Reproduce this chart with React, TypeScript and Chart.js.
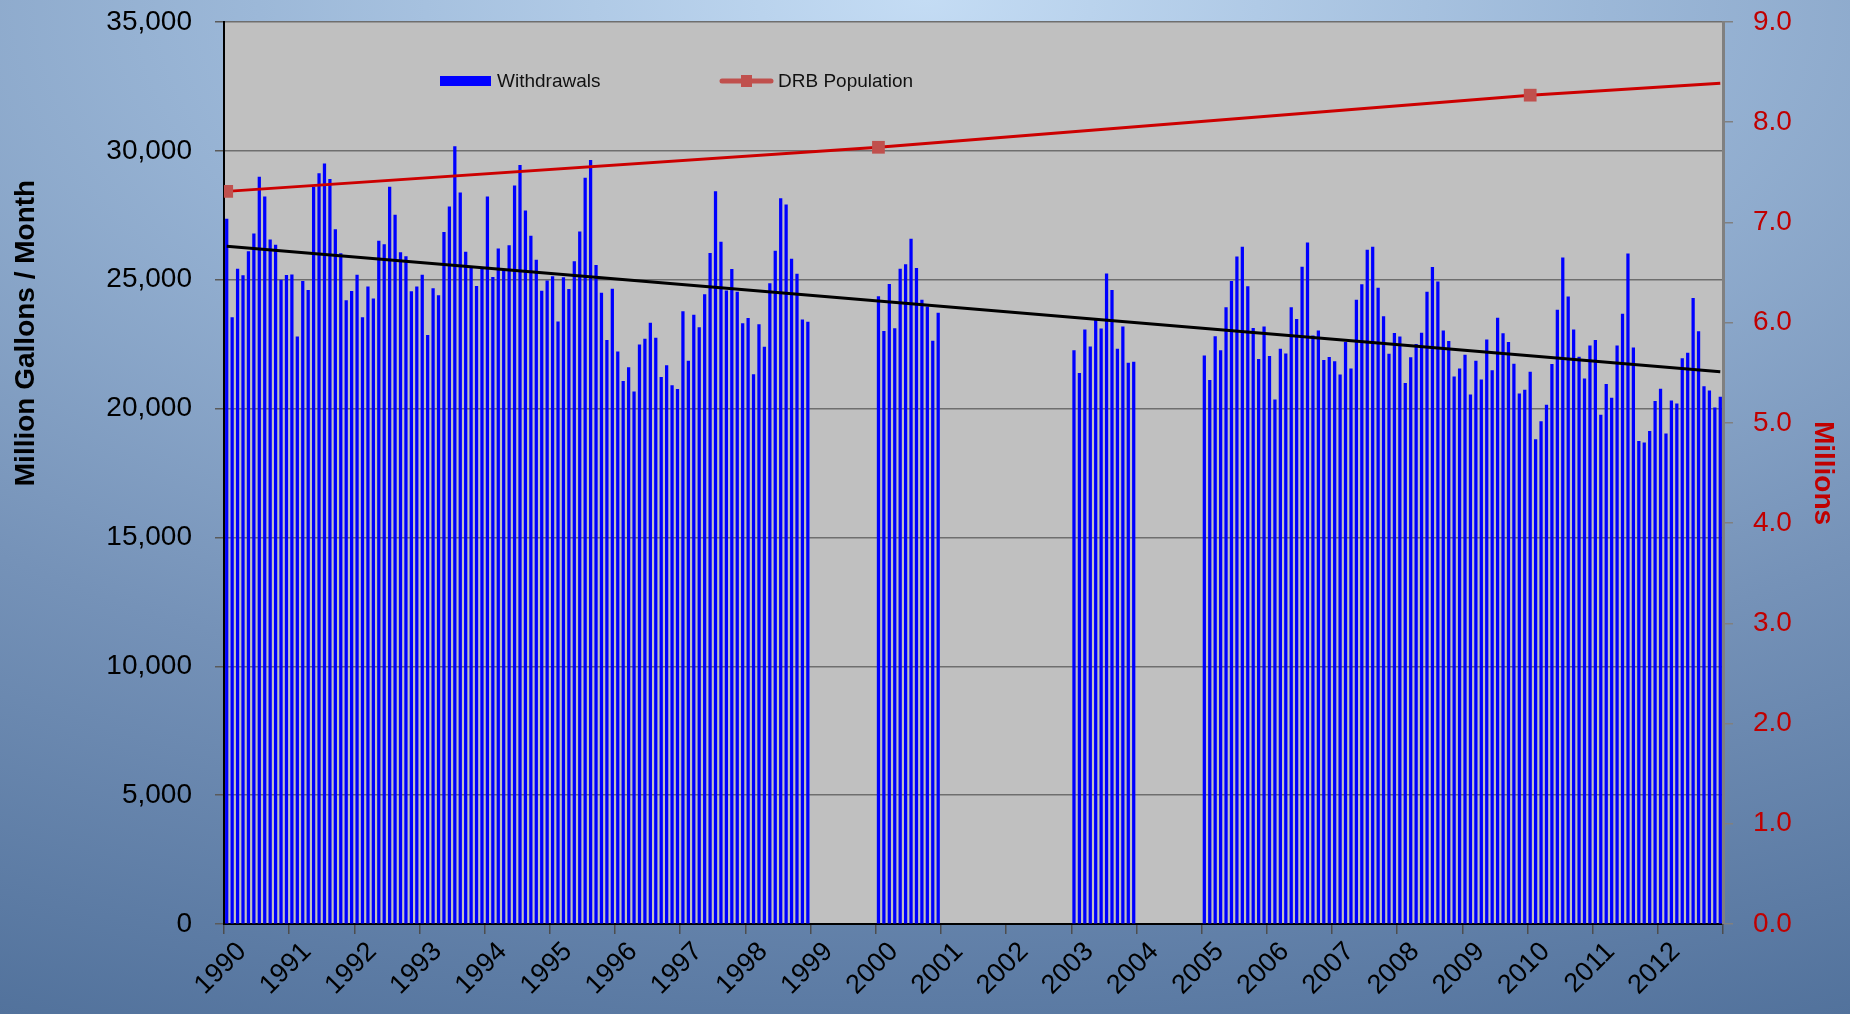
import React, { useEffect, useRef } from 'react';
import { Chart, registerables } from 'chart.js';

Chart.register(...registerables);

// ---- Data ----
const yearLabels = [
  '1990', '1991', '1992', '1993', '1994', '1995', '1996', '1997', '1998', '1999', '2000', '2001',
  '2002', '2003', '2004', '2005', '2006', '2007', '2008', '2009', '2010', '2011', '2012',
];
const totalMonths = 276;

// Monthly withdrawals (million gallons / month), blocks of consecutive months
const withdrawals1990to1998 = [
  27350, 23530, 25410, 25160, 26090, 26780, 28980, 28220, 26550, 26340, 24990, 25170,
  25190, 22780, 24940, 24590, 28590, 29120, 29500, 28900, 26950, 26010, 24190, 24550,
  25180, 23530, 24720, 24260, 26500, 26360, 28590, 27510, 26050, 25900, 24540, 24720,
  25180, 22840, 24660, 24380, 26840, 27830, 30170, 28370, 26070, 25480, 24740, 25430,
  28220, 25090, 26200, 25360, 26320, 28640, 29440, 27670, 26690, 25760, 24560, 24960,
  25120, 23370, 25080, 24630, 25700, 26860, 28940, 29630, 25560, 24480, 22650, 24640,
  22200, 21060, 21590, 20650, 22470, 22700, 23320, 22740, 21210, 21670, 20890, 20750,
  23760, 21840, 23630, 23140, 24420, 26020, 28420, 26460, 24570, 25400, 24520, 23300,
  23500, 21320, 23260, 22390, 24850, 26110, 28150, 27910, 25800, 25220, 23440, 23360,
];
const withdrawals2000 = [
  24350, 23000, 24820, 23100, 25410, 25590, 26580, 25440, 24210, 23950, 22620, 23710,
];
const withdrawals2003 = [
  22250, 21370, 23060, 22400, 23490, 23090, 25230, 24590, 22310, 23170, 21770, 21800,
];
const withdrawals2005to2012 = [
  22050, 21100, 22790, 22250, 23920, 24940, 25890, 26270, 24730, 23110, 21910, 23170,
  22030, 20340, 22310, 22120, 23920, 23460, 25490, 26430, 22820, 23020, 21870, 21990,
  21820, 21310, 22570, 21540, 24210, 24810, 26150, 26270, 24680, 23570, 22110, 22920,
  22780, 20980, 21980, 22490, 22930, 24520, 25480, 24920, 23020, 22610, 21230, 21540,
  22080, 20530, 21840, 21120, 22670, 21470, 23510, 22910, 22570, 21730, 20570, 20720,
  21420, 18800, 19500, 20140, 21720, 23820, 25850, 24340, 23060, 22000, 21150, 22430,
  22650, 19750, 20940, 20410, 22430, 23670, 26000, 22360, 18730, 18670, 19120, 20280,
  20760, 19020, 20300, 20180, 21940, 22150, 24280, 22990, 20850, 20690, 20030, 20450,
];
const blockStartMonths = [0, 120, 156, 180];

// Linear trend of withdrawals (first and last month)
const trendMonths = [0, 275];
const trendValues = [26300, 21430];

// DRB population (millions)
const popMonths = [0, 120, 240, 275];
const popValues = [7.31, 7.75, 8.27, 8.39];
const popMarkerRadius = [9, 9, 9, 0];

const FONT = "'Liberation Sans', Arial, sans-serif";

export default function App() {
  const ref = useRef<HTMLCanvasElement>(null);

  useEffect(() => {
    document.body.style.margin = '0';
    const blocks = [withdrawals1990to1998, withdrawals2000, withdrawals2003, withdrawals2005to2012];
    const barPoints: { x: number; y: number }[] = [];
    blocks.forEach((vals, b) => {
      vals.forEach((v, i) => barPoints.push({ x: blockStartMonths[b] + i + 0.5, y: v }));
    });
    const trendPoints = trendMonths.map((m, i) => ({ x: m + 0.5, y: trendValues[i] }));
    const popPoints = popMonths.map((m, i) => ({ x: m + 0.5, y: popValues[i] }));

    const bgPlugin = {
      id: 'plotBg',
      beforeDraw(chart: any) {
        const { ctx, chartArea: a } = chart;
        ctx.save();
        ctx.fillStyle = '#c0c0c0';
        ctx.fillRect(a.left, a.top, a.right - a.left, a.bottom - a.top);
        ctx.restore();
      },
      afterDraw(chart: any) {
        const { ctx } = chart;
        ctx.save();
        // left axis title
        ctx.translate(26, 333);
        ctx.rotate(-Math.PI / 2);
        ctx.font = `bold 28px ${FONT}`;
        ctx.fillStyle = '#000';
        ctx.textAlign = 'center';
        ctx.textBaseline = 'middle';
        ctx.fillText('Million Gallons / Month', 0, 0);
        ctx.restore();

        // legend
        ctx.save();
        ctx.font = `19px ${FONT}`;
        ctx.textBaseline = 'middle';
        ctx.fillStyle = '#0000ff';
        ctx.fillRect(440, 76, 51, 10);
        ctx.fillStyle = '#111';
        ctx.fillText('Withdrawals', 497, 82);
        ctx.strokeStyle = '#c0504d';
        ctx.lineWidth = 5;
        ctx.lineCap = 'round';
        ctx.beginPath();
        ctx.moveTo(722, 81);
        ctx.lineTo(771, 81);
        ctx.stroke();
        ctx.fillStyle = '#c0504d';
        ctx.fillRect(741, 75, 11, 12);
        ctx.fillStyle = '#111';
        ctx.fillText('DRB Population', 778, 82);
        ctx.restore();
      },
    };

    const vFit = (w: number) => (s: any) => {
      s.width = w;
      s.paddingTop = 0;
      s.paddingBottom = 0;
    };

    const chart = new Chart(ref.current!, {
      type: 'bar',
      data: {
        datasets: [
          {
            type: 'line',
            label: 'DRB Population',
            data: popPoints,
            yAxisID: 'y2',
            borderColor: '#cc0000',
            borderWidth: 3,
            pointStyle: 'rect',
            pointRadius: popMarkerRadius,
            pointBackgroundColor: '#c0504d',
            pointBorderWidth: 0,
            order: 0,
          } as any,
          {
            type: 'line',
            label: 'Trend',
            data: trendPoints,
            yAxisID: 'y',
            borderColor: '#000',
            borderWidth: 3,
            pointRadius: 0,
            order: 1,
          } as any,
          {
            type: 'bar',
            label: 'Withdrawals',
            data: barPoints,
            yAxisID: 'y',
            backgroundColor: '#0000ff',
            barThickness: 2.6,
            grouped: false,
            order: 2,
          } as any,
        ],
      },
      options: {
        responsive: false,
        animation: false,
        font: { family: FONT },
        layout: { padding: { top: 22, left: 0, right: 0, bottom: 0 } },
        plugins: { legend: { display: false }, tooltip: { enabled: false } },
        scales: {
          x: {
            type: 'linear',
            min: 0,
            max: totalMonths,
            offset: false,
            afterFit: (s: any) => {
              s.height = 90;
              s.paddingLeft = 0;
              s.paddingRight = 0;
            },
            ticks: {
              stepSize: 12,
              autoSkip: false,
              maxRotation: 45,
              minRotation: 45,
              callback: (v: any) => yearLabels[Math.round(Number(v) / 12)] ?? '',
              font: { size: 27, family: FONT },
              color: '#000',
              padding: 2,
              labelOffset: 18,
            },
            grid: { drawOnChartArea: false, drawTicks: true, tickLength: 10, tickColor: '#4d4d4d', lineWidth: 1.5, offset: false },
            border: { color: '#000', width: 2 },
          },
          y: {
            position: 'left',
            min: 0,
            max: 35000,
            afterFit: vFit(224),
            ticks: {
              stepSize: 5000,
              callback: (v: any) => Number(v).toLocaleString('en-US'),
              font: { size: 28, family: FONT },
              color: '#000',
              padding: 23,
            },
            grid: { color: '#6e6e6e', lineWidth: 1.5, tickLength: 9, tickColor: '#5a5a5a' },
            border: { color: '#000', width: 2 },
          },
          y2: {
            position: 'right',
            min: 0,
            max: 9,
            afterFit: vFit(127),
            ticks: {
              stepSize: 1,
              callback: (v: any) => Number(v).toFixed(1),
              font: { size: 28, family: FONT },
              color: '#c00000',
              padding: 20,
            },
            grid: { drawOnChartArea: false, tickLength: 10, tickColor: '#808080', lineWidth: 1.5 },
            border: { color: '#808080', width: 3 },
            title: {
              display: true,
              text: 'Millions',
              color: '#c00000',
              font: { size: 28, weight: 'bold', family: FONT },
              padding: { top: 10, bottom: 0 },
            },
          },
        },
      } as any,
      plugins: [bgPlugin],
    });
    return () => chart.destroy();
  }, []);

  return (
    <div
      style={{
        position: 'fixed',
        left: 0,
        top: 0,
        width: 1850,
        height: 1014,
        background:
          'radial-gradient(ellipse 120% 110% at 50% 0%, #c4dcf4 0%, #9cb8d8 30%, #7592b8 65%, #52729c 100%)',
      }}
    >
      <canvas ref={ref} width={1850} height={1014} style={{ display: 'block' }} />
    </div>
  );
}
